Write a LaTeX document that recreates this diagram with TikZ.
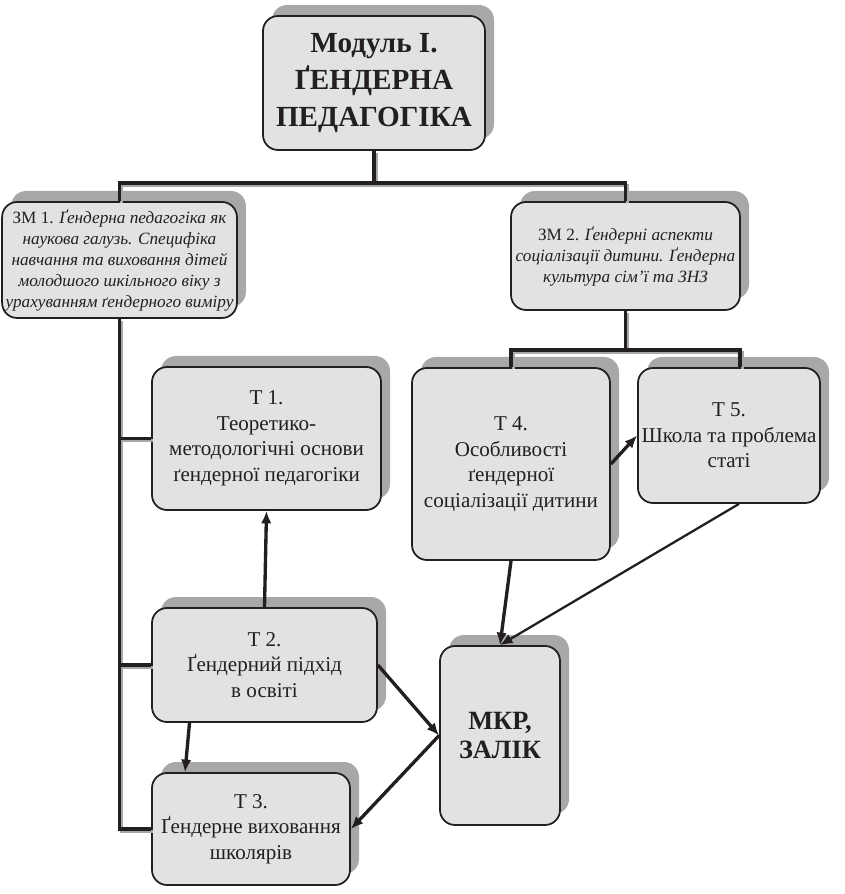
\documentclass[tikz,border=0pt]{standalone}
\usepackage{fontspec}
\setmainfont{Liberation Serif}
\usetikzlibrary{arrows.meta, calc, positioning, shadows}
\definecolor{boxgray}{RGB}{225,226,228}
\definecolor{inkblack}{RGB}{35,31,32}
\definecolor{shadowgray}{RGB}{168,168,168}

\begin{document}
\begin{tikzpicture}[
    box/.style={draw=inkblack, line width=1pt, fill=boxgray, rounded corners=0.3cm, align=center, text=inkblack, inner sep=2pt,
        drop shadow={shadow xshift=0.18cm, shadow yshift=0.22cm, fill=shadowgray, opacity=1}},
    headbox/.style={box, font=\fontsize{16.6}{21}\selectfont\bfseries},
    zmbox/.style={box, font=\fontsize{9.8}{11.9}\selectfont\itshape},
    tbox/.style={box, font=\fontsize{12}{14.5}\selectfont},
    link/.style={draw=inkblack, line width=1.9pt},
    tree/.style={link, preaction={draw=shadowgray, line width=1.9pt, transform canvas={xshift=1.3pt, yshift=-1.3pt}}},
    arr/.style={link, -{Latex[length=2.5mm, width=2.1mm]}},
]
    \useasboundingbox (0,0) rectangle (16.88,-17.88);

    \node[headbox, minimum width=4.44cm, minimum height=2.68cm] (modul) at (7.48,-1.66) {Модуль І.\\ҐЕНДЕРНА\\ПЕДАГОГІКА};

    \node[zmbox, minimum width=4.54cm, minimum height=2.32cm] (zm1) at (2.39,-5.2) {{\upshape ЗМ 1.} Ґендерна педагогіка як\\наукова галузь. Специфіка\\навчання та виховання дітей\\молодшого шкільного віку з\\урахуванням ґендерного виміру};
    \node[zmbox, minimum width=4.58cm, minimum height=2.16cm] (zm2) at (12.51,-5.12) {{\upshape ЗМ 2.} Ґендерні аспекти\\соціалізації дитини. Ґендерна\\культура сім’ї та ЗНЗ};

    \node[tbox, minimum width=4.58cm, minimum height=2.86cm] (t1) at (5.33,-8.77) {Т 1.\\Теоретико-\\методологічні основи\\ґендерної педагогіки};
    \node[tbox, minimum width=4.5cm, minimum height=2.28cm] (t2) at (5.29,-13.3) {Т 2.\\Ґендерний підхід\\в освіті};
    \node[tbox, minimum width=3.96cm, minimum height=2.24cm] (t3) at (5.02,-16.58) {Т 3.\\Ґендерне виховання\\школярів};
    \node[tbox, minimum width=3.96cm, minimum height=3.84cm] (t4) at (10.22,-9.28) {Т 4.\\Особливості\\ґендерної\\соціалізації дитини};
    \node[tbox, minimum width=3.48cm, minimum height=2.7cm] (t5) at (14.58,-8.71) {Т 5.\\Школа та проблема\\статі};

    \node[box, font=\fontsize{15}{17}\selectfont\bfseries, minimum width=2.4cm, minimum height=3.58cm] (mkr) at (10.0,-14.71) {МКР,\\ЗАЛІК};

    % tree lines
    \coordinate (split1) at (7.48,-3.66);
    \draw[tree] (modul.south) -- (split1);
    \draw[tree] (zm1.north) |- (split1) -| (zm2.north);
    \draw[tree] (zm1.south) |- (t3.west);
    \draw[tree] (zm1.south |- t1.west) -- (t1.west);
    \draw[tree] (zm1.south |- t2.west) -- (t2.west);

    \coordinate (split2) at (12.51,-7.0);
    \draw[tree] (zm2.south) -- (split2);
    \draw[tree] (t4.north) |- (split2) -| ([xshift=0.22cm]t5.north);

    % arrows
    \draw[arr] (t2.north) -- (t1.south);
    \draw[arr] ([xshift=-1.5cm]t2.south) -- ([xshift=-1.32cm]t3.north);
    \draw[arr] (t2.east) -- (mkr.west);
    \draw[arr] (mkr.west) -- (t3.east);
    \draw[arr] (t4.east) -- (t5.west);
    \draw[arr] (t4.south) -- (mkr.north);
    \draw[arr, line width=1.3pt] ([xshift=0.2cm]t5.south) -- (mkr.north);
\end{tikzpicture}
\end{document}
